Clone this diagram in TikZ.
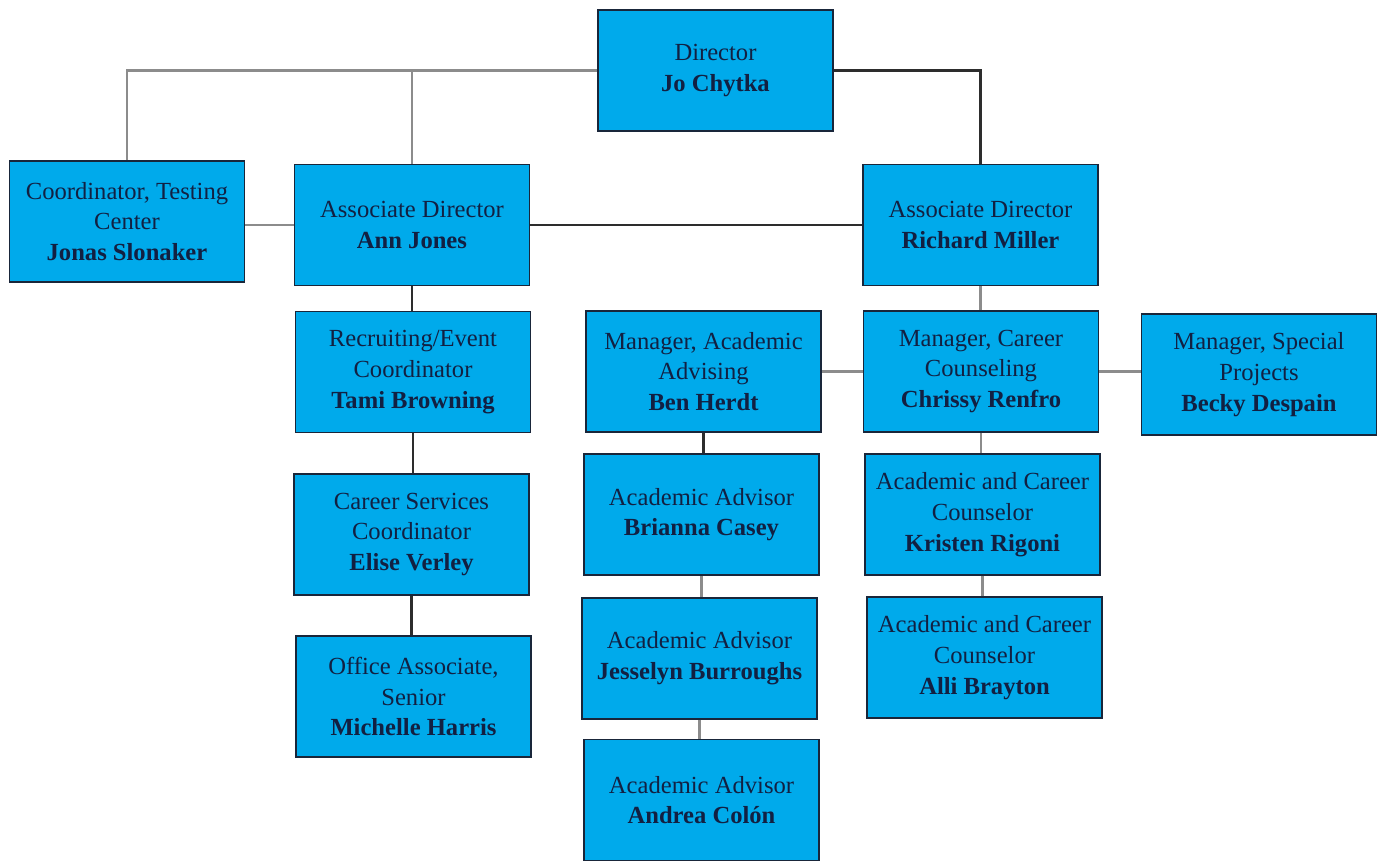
\documentclass[tikz,border=0pt]{standalone}
\usepackage{fontspec}
\setmainfont{Liberation Serif}
\usepackage{tikz}

\definecolor{boxblue}{RGB}{0,170,235}
\definecolor{boxedge}{RGB}{25,38,58}
\definecolor{boxtext}{RGB}{18,32,66}
\definecolor{linkgray}{RGB}{140,140,140}
\definecolor{linkdark}{RGB}{45,45,45}

\tikzset{
    post/.style={draw=boxedge, fill=boxblue, line width=1.1pt, text=boxtext,
        minimum width=4.7cm, minimum height=2.42cm, align=center,
        inner sep=2pt, font=\fontsize{14}{17.5}\selectfont},
    link/.style={draw=linkgray, line width=1.2pt},
    darklink/.style={draw=linkdark, line width=1.2pt}
}

\begin{document}
\begin{tikzpicture}[x=0.02cm, y=-0.02cm]
    \useasboundingbox (0,0) rectangle (1384,863);

    % draw boxes
    \node[post] (director) at (715.5,70.5) {Director\\\textbf{Jo Chytka}};
    \node[post] (testing)  at (127,221.5)  {Coordinator, Testing\\Center\\\textbf{Jonas Slonaker}};
    \node[post] (annjones) at (412,225)    {Associate Director\\\textbf{Ann Jones}};
    \node[post] (richard)  at (980.5,225)  {Associate Director\\\textbf{Richard Miller}};

    \node[post] (tami)     at (413,372)    {Recruiting/Event\\Coordinator\\\textbf{Tami Browning}};
    \node[post] (elise)    at (411.5,534.5) {Career Services\\Coordinator\\\textbf{Elise Verley}};
    \node[post] (michelle) at (413.5,696.5) {Office Associate,\\Senior\\\textbf{Michelle Harris}};

    \node[post] (ben)      at (703.5,371.5) {Manager, Academic\\Advising\\\textbf{Ben Herdt}};
    \node[post] (brianna)  at (701.5,514.5) {Academic Advisor\\\textbf{Brianna Casey}};
    \node[post] (jesselyn) at (699.5,658.5) {Academic Advisor\\\textbf{Jesselyn Burroughs}};
    \node[post] (andrea)   at (701.5,800)   {Academic Advisor\\\textbf{Andrea Colón}};

    \node[post] (chrissy)  at (981,371.5)   {Manager, Career\\Counseling\\\textbf{Chrissy Renfro}};
    \node[post] (kristen)  at (982.5,514.5) {Academic and Career\\Counselor\\\textbf{Kristen Rigoni}};
    \node[post] (alli)     at (984.5,657.5) {Academic and Career\\Counselor\\\textbf{Alli Brayton}};
    \node[post] (becky)    at (1259,374.5)  {Manager, Special\\Projects\\\textbf{Becky Despain}};

    % draw top lines
    \draw[link] (director.west) -| (testing.north);
    \draw[link] (annjones.north) -- (annjones.north |- director.west);
    \draw[darklink] (director.east) -| (richard.north);
    \draw[link] (testing.east |- annjones.west) -- (annjones.west);
    \draw[darklink] (annjones.east) -- (richard.west);

    % draw vertical lines
    \foreach \a/\b in {annjones/tami, tami/elise, elise/michelle, ben/brianna}
    \draw[darklink] (\a.south) -- (\a.south |- \b.north);
    \foreach \a/\b in {richard/chrissy, brianna/jesselyn, jesselyn/andrea, chrissy/kristen, kristen/alli}
    \draw[link] (\a.south) -- (\a.south |- \b.north);

    % draw side lines
    \draw[link] (ben.east) -- (chrissy.west);
    \draw[link] (chrissy.east) -- (chrissy.east -| becky.west);
\end{tikzpicture}
\end{document}
